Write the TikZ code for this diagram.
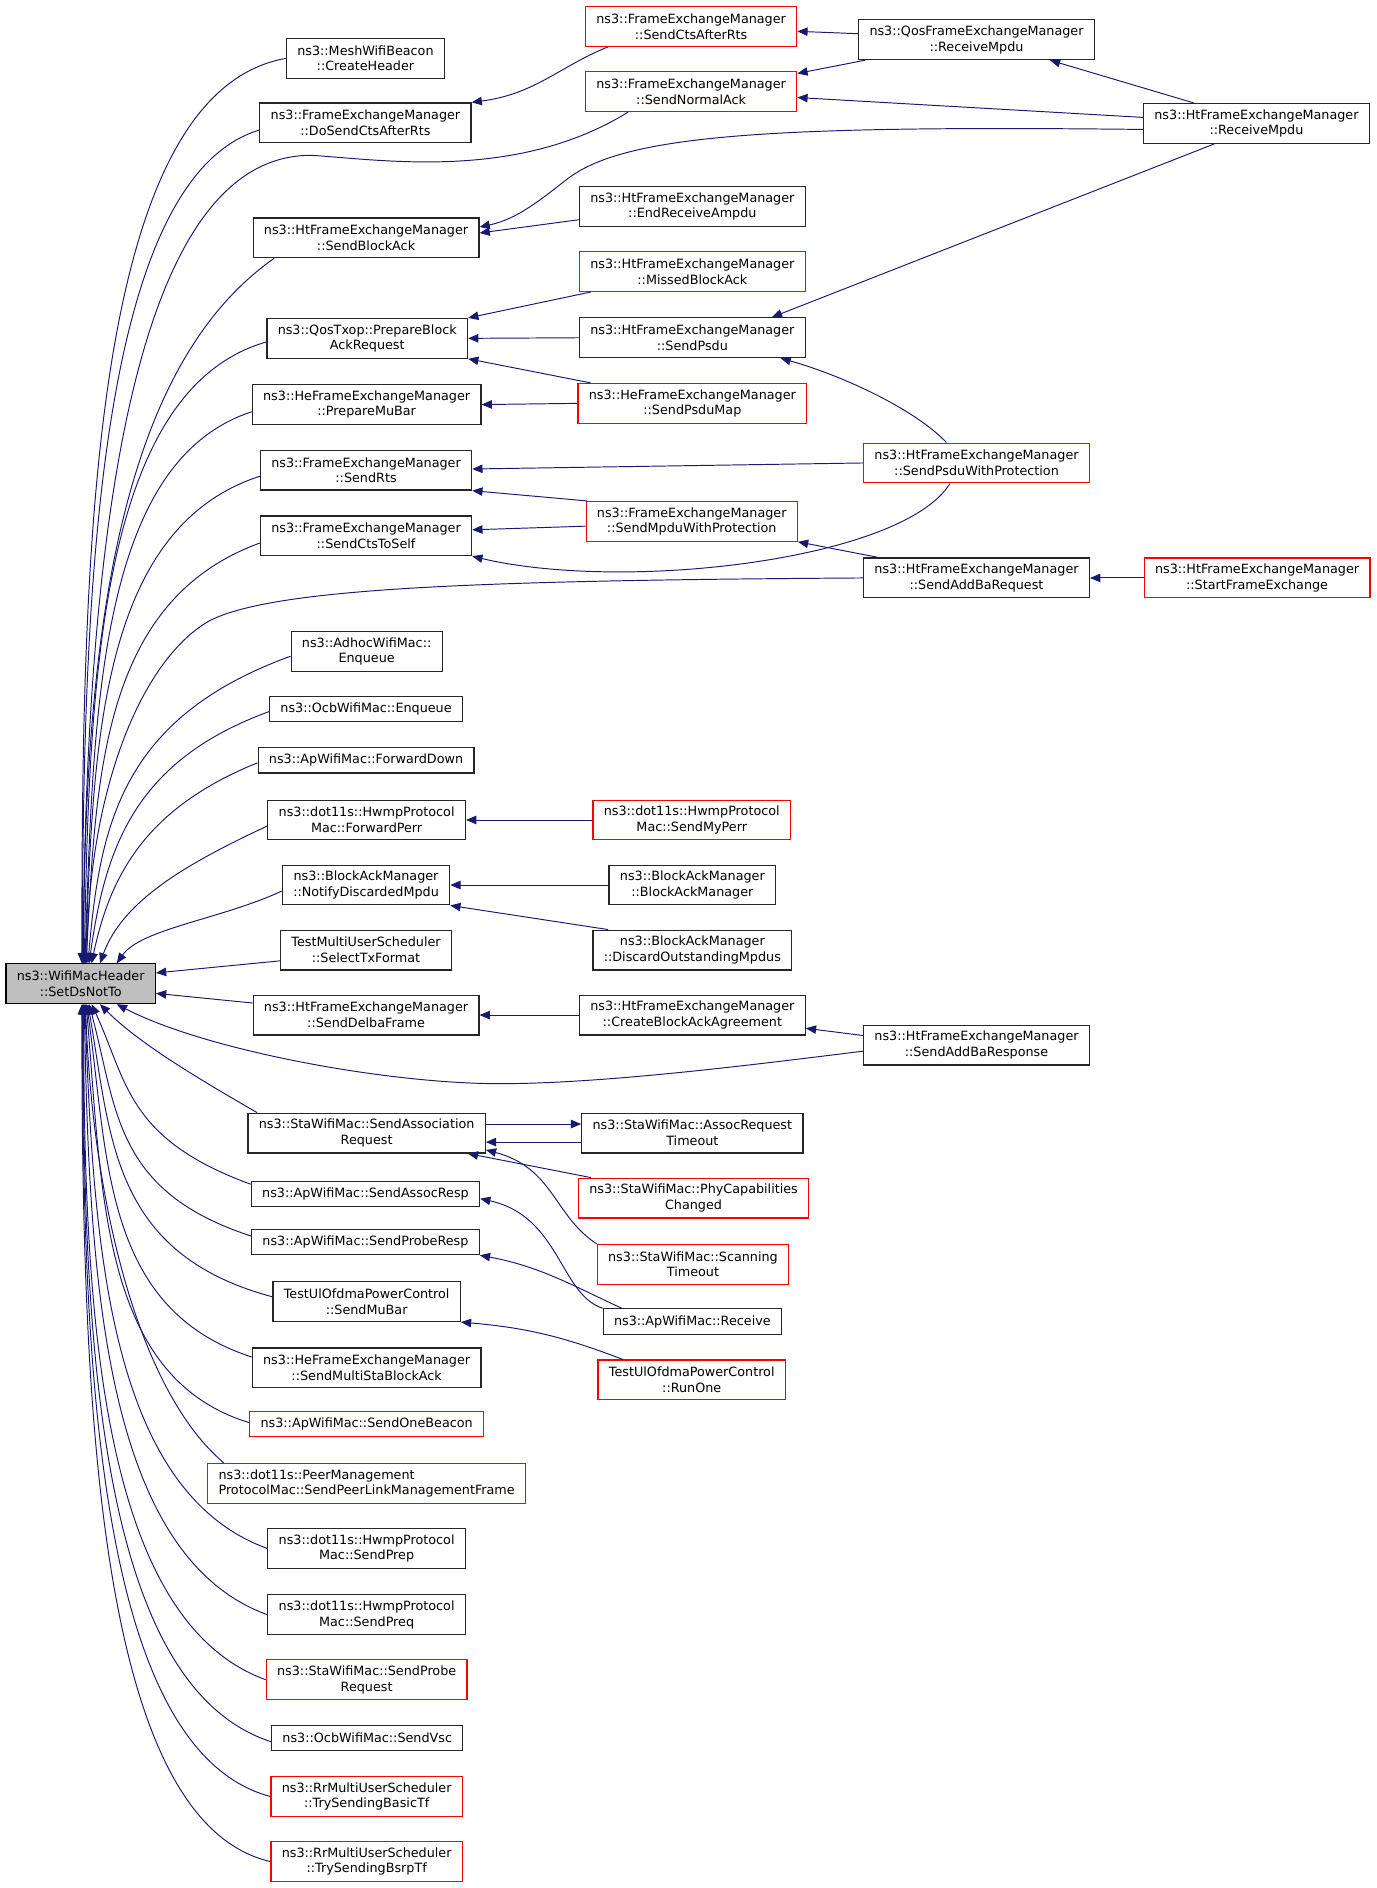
\documentclass[tikz,border=0pt]{standalone}
\usepackage{fontspec}
\setmainfont{DejaVu Sans}
\usetikzlibrary{arrows.meta}
\definecolor{edgeblue}{HTML}{191970}
\definecolor{rootgrey}{HTML}{BFBFBF}
\tikzset{
whitebox/.style={rectangle, draw=black!85, fill=white, line width=1pt, align=center, inner xsep=9pt, inner ysep=3pt, minimum height=33pt, font=\fontsize{10.6}{13}\selectfont},
redbox/.style={whitebox, draw=red},
greybox/.style={whitebox, draw=black, fill=rootgrey},
oneline/.style={minimum height=21pt},
calledge/.style={draw=edgeblue, line width=0.8pt, -{Triangle[length=8.5pt,width=7pt]}},
}
\begin{document}
\begin{tikzpicture}[x=1pt,y=-1pt]
\useasboundingbox (0,0) rectangle (1143,1568);

\node[greybox] at (67,817) (root) {ns3::WifiMacHeader\\::SetDsNotTo};

\node[whitebox] at (303.5,48.5) (ch) {ns3::MeshWifiBeacon\\::CreateHeader};
\node[whitebox] at (303.5,102) (dsc) {ns3::FrameExchangeManager\\::DoSendCtsAfterRts};
\node[whitebox] at (304,197.5) (sba) {ns3::HtFrameExchangeManager\\::SendBlockAck};
\node[whitebox] at (305,281) (pbar) {ns3::QosTxop::PrepareBlock\\AckRequest};
\node[whitebox] at (304.5,336) (pmb) {ns3::HeFrameExchangeManager\\::PrepareMuBar};
\node[whitebox] at (304,390.5) (srts) {ns3::FrameExchangeManager\\::SendRts};
\node[whitebox] at (304,445) (scts) {ns3::FrameExchangeManager\\::SendCtsToSelf};
\node[whitebox] at (304.5,541) (adh) {ns3::AdhocWifiMac::\\Enqueue};
\node[whitebox,oneline] at (304,589) (ocbe) {ns3::OcbWifiMac::Enqueue};
\node[whitebox,oneline] at (304,631.5) (fwd) {ns3::ApWifiMac::ForwardDown};
\node[whitebox] at (304.5,681) (fperr) {ns3::dot11s::HwmpProtocol\\Mac::ForwardPerr};
\node[whitebox] at (304,735) (ndm) {ns3::BlockAckManager\\::NotifyDiscardedMpdu};
\node[whitebox] at (304,789) (stf) {TestMultiUserScheduler\\::SelectTxFormat};
\node[whitebox] at (304,843) (sdf) {ns3::HtFrameExchangeManager\\::SendDelbaFrame};
\node[whitebox] at (304.5,941) (sar) {ns3::StaWifiMac::SendAssociation\\Request};
\node[whitebox,oneline] at (303.5,991.5) (sasr) {ns3::ApWifiMac::SendAssocResp};
\node[whitebox,oneline] at (303.5,1031.5) (spr) {ns3::ApWifiMac::SendProbeResp};
\node[whitebox] at (304.5,1081) (smb) {TestUlOfdmaPowerControl\\::SendMuBar};
\node[whitebox] at (304.5,1136) (smsba) {ns3::HeFrameExchangeManager\\::SendMultiStaBlockAck};
\node[redbox,oneline] at (304.5,1182.5) (sob) {ns3::ApWifiMac::SendOneBeacon};
\node[redbox,align=left] at (304.5,1232) (spl) {ns3::dot11s::PeerManagement\\ProtocolMac::SendPeerLinkManagementFrame};
\node[whitebox] at (304.5,1286) (spp) {ns3::dot11s::HwmpProtocol\\Mac::SendPrep};
\node[whitebox] at (304.5,1341) (spq) {ns3::dot11s::HwmpProtocol\\Mac::SendPreq};
\node[redbox] at (304.5,1395) (sprq) {ns3::StaWifiMac::SendProbe\\Request};
\node[whitebox,oneline] at (305,1443.5) (svsc) {ns3::OcbWifiMac::SendVsc};
\node[redbox] at (304.5,1492) (tsb) {ns3::RrMultiUserScheduler\\::TrySendingBasicTf};
\node[redbox] at (304.5,1546) (tsbs) {ns3::RrMultiUserScheduler\\::TrySendingBsrpTf};

\node[redbox] at (574,22) (scar) {ns3::FrameExchangeManager\\::SendCtsAfterRts};
\node[redbox] at (574,76) (sna) {ns3::FrameExchangeManager\\::SendNormalAck};
\node[whitebox] at (575,171.5) (era) {ns3::HtFrameExchangeManager\\::EndReceiveAmpdu};
\node[redbox] at (575,225.5) (mba) {ns3::HtFrameExchangeManager\\::MissedBlockAck};
\node[whitebox] at (575,280.5) (sps) {ns3::HtFrameExchangeManager\\::SendPsdu};
\node[redbox] at (575,335) (spm) {ns3::HeFrameExchangeManager\\::SendPsduMap};
\node[redbox] at (574.5,433) (smwp) {ns3::FrameExchangeManager\\::SendMpduWithProtection};
\node[redbox] at (574.5,681) (smp) {ns3::dot11s::HwmpProtocol\\Mac::SendMyPerr};
\node[whitebox] at (575,735) (bam) {ns3::BlockAckManager\\::BlockAckManager};
\node[whitebox] at (575,789) (dom) {ns3::BlockAckManager\\::DiscardOutstandingMpdus};
\node[whitebox] at (575,843) (cbaa) {ns3::HtFrameExchangeManager\\::CreateBlockAckAgreement};
\node[whitebox] at (575,941) (art) {ns3::StaWifiMac::AssocRequest\\Timeout};
\node[redbox] at (576,995) (pcc) {ns3::StaWifiMac::PhyCapabilities\\Changed};
\node[redbox] at (575.5,1050) (st) {ns3::StaWifiMac::Scanning\\Timeout};
\node[whitebox,oneline] at (575,1097.5) (ar) {ns3::ApWifiMac::Receive};
\node[redbox] at (574.5,1146) (ro) {TestUlOfdmaPowerControl\\::RunOne};

\node[whitebox] at (811,33) (qrm) {ns3::QosFrameExchangeManager\\::ReceiveMpdu};
\node[redbox] at (811,384.5) (spwp) {ns3::HtFrameExchangeManager\\::SendPsduWithProtection};
\node[whitebox] at (811,480) (sabr) {ns3::HtFrameExchangeManager\\::SendAddBaRequest};
\node[whitebox] at (811,868) (sabrsp) {ns3::HtFrameExchangeManager\\::SendAddBaResponse};

\node[whitebox] at (1043.5,102.5) (rmh) {ns3::HtFrameExchangeManager\\::ReceiveMpdu};
\node[redbox] at (1044,480) (sfe) {ns3::HtFrameExchangeManager\\::StartFrameExchange};

% callers above the root
\draw[calledge] (ch.west) to[out=190,in=90,out distance=165pt,in distance=340pt] ([xshift=1pt]root.north);
\draw[calledge] ([yshift=-6pt]dsc.west) to[out=197,in=90,out distance=140pt,in distance=310pt] ([xshift=1.5pt]root.north);
\draw[calledge] ([xshift=36pt]sna.south west) .. controls (430,150) and (320,133) .. (259,129) .. controls (140,128) and (72,330) .. ([xshift=2pt]root.north);
\draw[calledge] ([xshift=18pt]sba.south west) to[out=215,in=90,out distance=150pt,in distance=290pt] ([xshift=2.5pt]root.north);
\draw[calledge] ([yshift=-3pt]pbar.west) to[out=196,in=89,out distance=145pt,in distance=230pt] ([xshift=3pt]root.north);
\draw[calledge] ([yshift=-6pt]pmb.west) to[out=198,in=88,out distance=135pt,in distance=205pt] ([xshift=3.5pt]root.north);
\draw[calledge] ([yshift=-5pt]srts.west) to[out=198,in=88,out distance=140pt,in distance=180pt] ([xshift=4pt]root.north);
\draw[calledge] ([yshift=-6pt]scts.west) to[out=200,in=87,out distance=140pt,in distance=155pt] ([xshift=4.5pt]root.north);
\draw[calledge] (sabr.west) .. controls (400,482) and (230,488) .. (175,515) .. controls (120,545) and (74,650) .. ([xshift=5pt]root.north);
\draw[calledge] ([yshift=-4pt]adh.west) to[out=200,in=85,out distance=150pt,in distance=115pt] ([xshift=6pt]root.north);
\draw[calledge] ([yshift=-2pt]ocbe.west) to[out=200,in=82,out distance=120pt,in distance=95pt] ([xshift=7pt]root.north);
\draw[calledge] ([yshift=-2pt]fwd.west) to[out=202,in=78,out distance=100pt,in distance=75pt] ([xshift=9pt]root.north);
\draw[calledge] ([yshift=-5pt]fperr.west) to[out=205,in=70,out distance=75pt,in distance=55pt] ([xshift=16pt]root.north);
\draw[calledge] ([yshift=-5pt]ndm.west) to[out=205,in=55,out distance=55pt,in distance=35pt] ([xshift=30pt]root.north);

% callers beside the root
\draw[calledge] ([yshift=-9pt]stf.west) -- ([yshift=9pt]root.east);
\draw[calledge] ([yshift=10pt]sdf.west) -- ([yshift=-8pt]root.east);

% callers below the root
\draw[calledge] ([yshift=-5pt]sabrsp.west) .. controls (620,885) and (500,900) .. (415,900) .. controls (320,900) and (170,872) .. ([xshift=30pt]root.south);
\draw[calledge] ([xshift=8pt]sar.north west) to[out=150,in=315,out distance=60pt,in distance=45pt] ([xshift=16pt]root.south);
\draw[calledge] ([yshift=-3pt]sasr.north west) to[out=160,in=295,out distance=110pt,in distance=70pt] ([xshift=9pt]root.south);
\draw[calledge] ([yshift=-6pt]spr.north west) to[out=162,in=285,out distance=120pt,in distance=90pt] ([xshift=7pt]root.south);
\draw[calledge] ([yshift=4pt]smb.west) to[out=165,in=280,out distance=140pt,in distance=110pt] ([xshift=6pt]root.south);
\draw[calledge] ([yshift=9pt]smsba.west) to[out=162,in=278,out distance=130pt,in distance=130pt] ([xshift=5pt]root.south);
\draw[calledge] ([yshift=1pt]sob.west) to[out=163,in=275,out distance=130pt,in distance=155pt] ([xshift=4.5pt]root.south);
\draw[calledge] ([xshift=14pt]spl.north west) to[out=140,in=272,out distance=90pt,in distance=170pt] ([xshift=4pt]root.south);
\draw[calledge] (spp.west) to[out=160,in=272,out distance=140pt,in distance=200pt] ([xshift=3.5pt]root.south);
\draw[calledge] (spq.west) to[out=160,in=271,out distance=145pt,in distance=225pt] ([xshift=3pt]root.south);
\draw[calledge] (sprq.west) to[out=160,in=270,out distance=148pt,in distance=250pt] ([xshift=2.5pt]root.south);
\draw[calledge] ([yshift=-3pt]svsc.west) to[out=162,in=270,out distance=152pt,in distance=275pt] ([xshift=2pt]root.south);
\draw[calledge] (tsb.west) to[out=165,in=270,out distance=150pt,in distance=295pt] ([xshift=1.5pt]root.south);
\draw[calledge] (tsbs.west) to[out=167,in=270,out distance=150pt,in distance=320pt] ([xshift=1pt]root.south);

% second level and beyond
\draw[calledge] ([xshift=19pt]scar.south west) .. controls (465,55) and (445,78) .. (dsc.north east);
\draw[calledge] ([yshift=5pt]qrm.west) -- ([yshift=-4pt]scar.east);
\draw[calledge] ([xshift=6pt]qrm.south west) -- ([yshift=-2pt]sna.north east);
\draw[calledge] ([xshift=-52pt]rmh.north) -- ([xshift=61pt]qrm.south);
\draw[calledge] ([yshift=5pt]rmh.west) -- ([yshift=-5pt]sna.east);
\draw[calledge] ([yshift=-5pt]rmh.west) .. controls (640,104) and (520,112) .. (472,148) .. controls (450,165) and (430,182) .. ([yshift=9pt]sba.east);
\draw[calledge] ([xshift=-35pt]rmh.south) -- ([xshift=66pt]sps.north);
\draw[calledge] ([yshift=-11pt]era.west) -- ([yshift=4pt]sba.east);
\draw[calledge] ([xshift=10pt]mba.south west) -- (pbar.north east);
\draw[calledge] (sps.west) -- (pbar.east);
\draw[calledge] ([xshift=11pt]spm.north west) -- (pbar.south east);
\draw[calledge] (spm.west) -- (pmb.east);
\draw[calledge] ([xshift=-25pt]spwp.north) .. controls (760,340) and (700,312) .. ([xshift=-21pt]sps.south east);
\draw[calledge] (spwp.west) -- ([yshift=1pt]srts.east);
\draw[calledge] ([xshift=1pt]smwp.north west) -- (srts.south east);
\draw[calledge] ([yshift=-4pt]smwp.west) -- ([yshift=5pt]scts.east);
\draw[calledge] ([xshift=-22pt]spwp.south) .. controls (750,465) and (520,492) .. (scts.south east);
\draw[calledge] ([xshift=13pt]sabr.north west) -- (smwp.south east);
\draw[calledge] (sfe.west) -- (sabr.east);
\draw[calledge] (smp.west) -- (fperr.east);
\draw[calledge] (bam.west) -- (ndm.east);
\draw[calledge] ([xshift=13pt]dom.north west) -- (ndm.south east);
\draw[calledge] (cbaa.west) -- (sdf.east);
\draw[calledge] ([yshift=8pt]sabrsp.west) -- ([yshift=-11pt]cbaa.east);
\draw[calledge] ([yshift=7.5pt]sar.east) -- ([yshift=7.5pt]art.west);
\draw[calledge] ([yshift=-7.5pt]art.west) -- ([yshift=-7.5pt]sar.east);
\draw[calledge] ([xshift=11pt]pcc.north west) -- ([xshift=-15pt]sar.south east);
\draw[calledge] (st.north west) .. controls (460,1010) and (460,970) .. ([yshift=3pt]sar.south east);
\draw[calledge] (ar.north west) .. controls (465,1075) and (465,1010) .. ([yshift=-4pt]sasr.east);
\draw[calledge] ([xshift=16pt]ar.north west) .. controls (480,1070) and (450,1052) .. (spr.south east);
\draw[calledge] ([xshift=21pt]ro.north west) to[bend right=8] (smb.south east);
\end{tikzpicture}
\end{document}
